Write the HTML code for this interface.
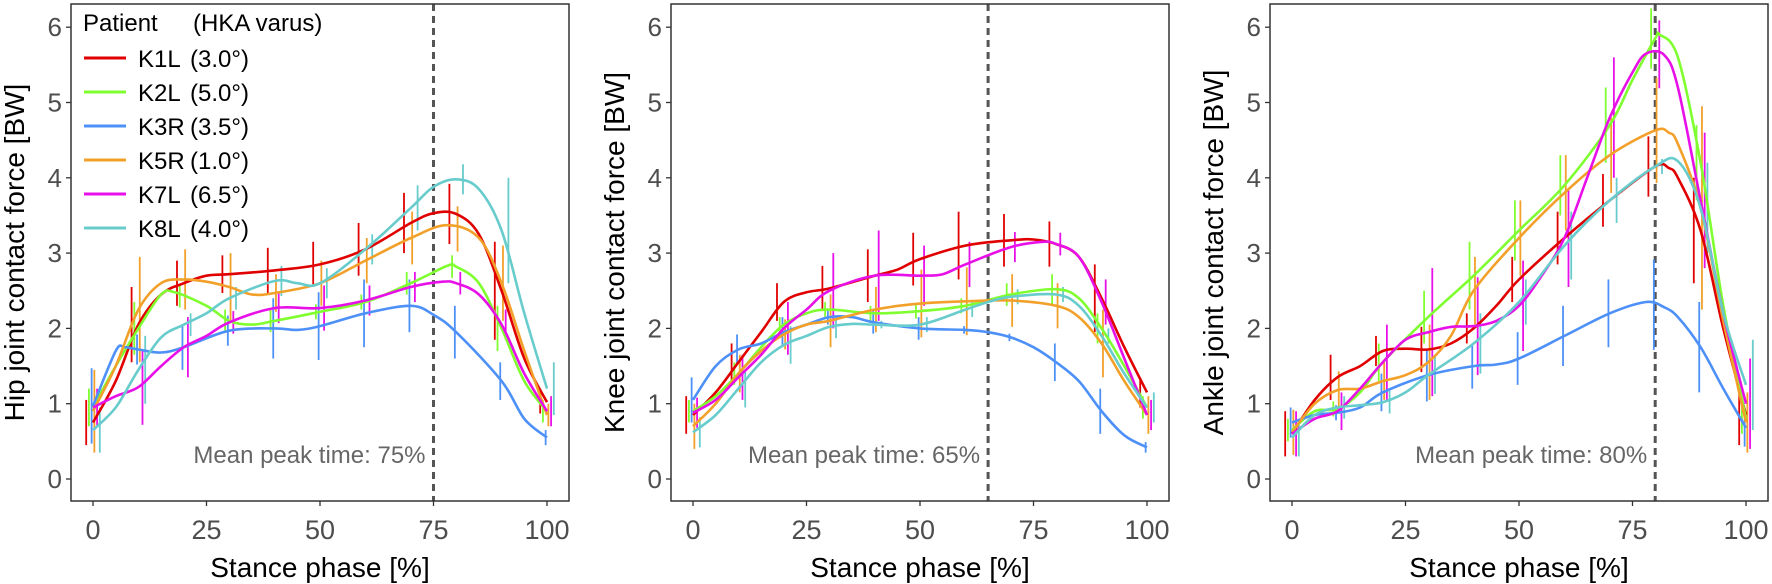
<!DOCTYPE html>
<html><head><meta charset="utf-8"><style>
html,body{margin:0;padding:0;background:#fff;}
svg{display:block;font-family:"Liberation Sans",Arial,sans-serif;}
</style></head><body>
<svg id="chart" width="1772" height="584" viewBox="0 0 1772 584"></svg>
<script>
const xTicks=[0,25,50,75,100];
const yTicks=[0,1,2,3,4,5,6];
const seriesNames=["K1L","K2L","K3R","K5R","K7L","K8L"];
const seriesVarus=["(3.0°)","(5.0°)","(3.5°)","(1.0°)","(6.5°)","(4.0°)"];
const seriesColors=["#e00000","#80ff30","#4d90f8","#f2a02a","#e810e8","#68cccc"];
const panelTitles=["Hip joint contact force [BW]","Knee joint contact force [BW]","Ankle joint contact force [BW]"];
const peakTimes=[75,65,80];
const barX=[0,10,20,30,40,50,60,70,80,90,100];
const hipK1L=[[0,0.75],[5,1.3],[10,2.05],[15,2.45],[20,2.6],[25,2.7],[30,2.72],[40,2.77],[50,2.85],[60,3.05],[70,3.4],[75,3.53],[80,3.52],[85,3.25],[90,2.5],[95,1.6],[100,1.02]];
const hipK2L=[[0,0.95],[5,1.5],[10,2.0],[15,2.45],[18,2.48],[25,2.3],[30,2.1],[35,2.05],[40,2.1],[50,2.22],[60,2.35],[70,2.6],[78,2.83],[80,2.82],[85,2.6],[90,2.0],[95,1.3],[100,0.9]];
const hipK3R=[[0,0.97],[5,1.7],[7,1.75],[10,1.72],[15,1.68],[20,1.75],[30,1.97],[40,2.0],[45,1.98],[50,2.03],[60,2.2],[70,2.3],[75,2.18],[80,1.95],[90,1.3],[95,0.8],[100,0.55]];
const hipK5R=[[0,0.9],[5,1.5],[10,2.25],[15,2.6],[20,2.65],[25,2.62],[30,2.55],[35,2.45],[40,2.47],[50,2.6],[60,2.9],[70,3.2],[78,3.37],[85,3.2],[90,2.6],[95,1.7],[100,0.85]];
const hipK7L=[[0,0.95],[5,1.1],[10,1.22],[15,1.5],[20,1.75],[25,1.9],[30,2.08],[40,2.27],[50,2.27],[60,2.37],[70,2.55],[77,2.62],[80,2.6],[85,2.45],[90,2.05],[95,1.4],[100,0.9]];
const hipK8L=[[0,0.65],[5,0.95],[10,1.45],[15,1.88],[20,2.05],[25,2.2],[30,2.4],[40,2.63],[45,2.6],[50,2.6],[60,3.05],[70,3.6],[75,3.88],[80,3.98],[85,3.85],[90,3.3],[95,2.2],[100,1.2]];
const kneeK1L=[[0,0.85],[5,1.15],[10,1.55],[15,1.95],[20,2.35],[25,2.48],[30,2.53],[40,2.7],[45,2.78],[50,2.92],[60,3.1],[70,3.17],[75,3.18],[80,3.12],[85,2.95],[90,2.4],[95,1.75],[100,1.15]];
const kneeK2L=[[0,0.9],[5,1.1],[10,1.4],[15,1.75],[20,2.05],[25,2.2],[30,2.25],[40,2.2],[50,2.23],[60,2.3],[70,2.45],[80,2.52],[85,2.4],[90,2.0],[95,1.5],[100,0.95]];
const kneeK3R=[[0,1.05],[5,1.5],[10,1.72],[15,1.8],[20,1.95],[25,2.05],[30,2.15],[35,2.15],[40,2.08],[50,2.0],[60,1.98],[65,1.95],[70,1.88],[75,1.75],[80,1.55],[85,1.3],[90,0.9],[95,0.58],[100,0.42]];
const kneeK5R=[[0,0.7],[5,1.0],[10,1.4],[15,1.7],[20,1.92],[25,2.05],[30,2.1],[40,2.25],[50,2.33],[60,2.36],[70,2.37],[80,2.3],[85,2.15],[90,1.8],[95,1.3],[100,0.85]];
const kneeK7L=[[0,0.88],[5,1.05],[10,1.35],[15,1.65],[20,2.0],[25,2.25],[30,2.5],[40,2.7],[50,2.7],[55,2.72],[60,2.85],[70,3.08],[77,3.15],[80,3.12],[85,2.95],[90,2.35],[95,1.6],[100,0.85]];
const kneeK8L=[[0,0.62],[5,0.85],[10,1.2],[15,1.55],[20,1.78],[25,1.9],[30,2.02],[35,2.06],[40,2.05],[50,2.05],[60,2.25],[65,2.35],[70,2.42],[80,2.45],[85,2.3],[90,1.9],[95,1.4],[100,0.95]];
const ankleK1L=[[0,0.6],[5,1.05],[10,1.35],[15,1.5],[20,1.7],[25,1.73],[30,1.72],[35,1.8],[40,2.0],[45,2.3],[50,2.65],[60,3.2],[70,3.7],[80,4.15],[83,4.13],[85,4.0],[90,3.3],[95,2.0],[100,0.85]];
const ankleK2L=[[0,0.65],[5,0.9],[10,0.93],[15,1.15],[20,1.55],[30,2.15],[40,2.7],[50,3.3],[60,3.9],[70,4.7],[75,5.3],[80,5.85],[81,5.9],[85,5.6],[90,4.2],[95,2.3],[100,0.8]];
const ankleK3R=[[0,0.75],[5,0.85],[10,0.88],[15,0.95],[20,1.15],[30,1.38],[40,1.5],[45,1.52],[50,1.6],[60,1.9],[70,2.2],[78,2.35],[82,2.28],[85,2.15],[90,1.75],[95,1.2],[100,0.68]];
const ankleK5R=[[0,0.62],[5,1.0],[10,1.18],[15,1.2],[20,1.3],[25,1.38],[30,1.55],[35,1.9],[40,2.5],[50,3.2],[60,3.8],[70,4.3],[80,4.63],[83,4.6],[85,4.45],[90,3.6],[95,2.1],[100,0.75]];
const ankleK7L=[[0,0.6],[5,0.8],[10,0.9],[15,1.2],[20,1.55],[25,1.85],[30,1.95],[35,2.02],[40,2.03],[45,2.1],[50,2.3],[55,2.7],[60,3.2],[65,4.0],[70,4.8],[75,5.4],[78,5.65],[82,5.63],[85,5.2],[90,3.7],[95,2.2],[100,1.0]];
const ankleK8L=[[0,0.55],[5,0.85],[10,0.95],[15,0.98],[20,1.02],[25,1.15],[30,1.38],[40,1.8],[50,2.35],[60,3.1],[70,3.7],[80,4.15],[85,4.22],[90,3.6],[95,2.2],[100,1.25]];
const hipSD=[[0.3,0.5,0.3,0.25,0.3,0.3,0.35,0.4,0.4,0.65,0.15],[0.25,0.35,0.15,0.15,0.15,0.1,0.1,0.15,0.15,0.3,0.15],[0.5,0.2,0.3,0.2,0.4,0.45,0.45,0.35,0.35,0.25,0.1],[0.55,0.7,0.4,0.45,0.25,0.3,0.3,0.35,0.3,0.5,0.15],[0.25,0.5,0.4,0.15,0.2,0.3,0.2,0.2,0.15,0.2,0.2],[0.3,0.45,0.15,0.15,0.2,0.2,0.2,0.3,0.2,0.7,0.35]];
const kneeSD=[[0.25,0.25,0.25,0.3,0.35,0.35,0.45,0.35,0.3,0.45,0.2],[0.15,0.15,0.1,0.1,0.1,0.1,0.1,0.15,0.2,0.2,0.15],[0.3,0.2,0.2,0.1,0.15,0.15,0.05,0.05,0.25,0.3,0.07],[0.3,0.25,0.2,0.35,0.3,0.45,0.45,0.35,0.3,0.45,0.25],[0.2,0.3,0.35,0.5,0.6,0.4,0.3,0.2,0.15,0.3,0.2],[0.2,0.25,0.25,0.15,0.05,0.1,0.1,0.1,0.1,0.1,0.2]];
const ankleSD=[[0.3,0.3,0.2,0.3,0.2,0.3,0.35,0.35,0.4,0.7,0.4],[0.15,0.1,0.25,0.35,0.45,0.4,0.4,0.5,0.4,0.5,0.2],[0.2,0.1,0.25,0.35,0.3,0.35,0.4,0.45,0.6,0.6,0.25],[0.3,0.25,0.25,0.5,0.45,0.5,0.5,0.5,0.7,1.35,0.4],[0.3,0.25,0.5,0.85,0.65,0.6,0.65,0.8,0.45,0.9,0.6],[0.25,0.15,0.15,0.25,0.4,0.3,0.45,0.3,0.1,0.6,0.6]];
const panelCurves=[[hipK1L,hipK2L,hipK3R,hipK5R,hipK7L,hipK8L],[kneeK1L,kneeK2L,kneeK3R,kneeK5R,kneeK7L,kneeK8L],[ankleK1L,ankleK2L,ankleK3R,ankleK5R,ankleK7L,ankleK8L]];
const panelSD=[hipSD,kneeSD,ankleSD];
const panelNames=["hip","knee","ankle"];

const NS="http://www.w3.org/2000/svg";
const svg=document.getElementById('chart');
function mk(tag,attrs,parent,text){const e=document.createElementNS(NS,tag);for(const k in attrs)e.setAttribute(k,attrs[k]);if(text!==undefined)e.textContent=text;(parent||svg).appendChild(e);return e;}
const boxLefts=[71,671,1270];
const boxW=498, boxTop=4, boxBot=501;
const dodge=[-1.5,-0.9,-0.3,0.3,0.9,1.5];
function interp(c,x){for(let i=0;i<c.length-1;i++){if(x>=c[i][0]&&x<=c[i+1][0]){const t=(x-c[i][0])/(c[i+1][0]-c[i][0]);return c[i][1]+t*(c[i+1][1]-c[i][1]);}}return c[c.length-1][1];}
function smoothPath(pts){let d="M"+pts[0][0].toFixed(1)+","+pts[0][1].toFixed(1);for(let i=0;i<pts.length-1;i++){const p0=pts[Math.max(0,i-1)],p1=pts[i],p2=pts[i+1],p3=pts[Math.min(pts.length-1,i+2)];const c1=[p1[0]+(p2[0]-p0[0])/6,p1[1]+(p2[1]-p0[1])/6];const c2=[p2[0]-(p3[0]-p1[0])/6,p2[1]-(p3[1]-p1[1])/6];d+="C"+c1[0].toFixed(1)+","+c1[1].toFixed(1)+" "+c2[0].toFixed(1)+","+c2[1].toFixed(1)+" "+p2[0].toFixed(1)+","+p2[1].toFixed(1);}return d;}

for(let p=0;p<3;p++){
  const L=boxLefts[p];
  const xs=v=>L+22+v*4.54;
  const ys=v=>479-v*75.3;
  const g=mk('g',{});
  
  
  yTicks.forEach(t=>{
    const tk=mk('line',{x1:L-5,x2:L,y1:ys(t),y2:ys(t),stroke:'#333','stroke-width':1.3},g);
    
    
    const tl=mk('text',{x:L-9,y:ys(t)+9,'text-anchor':'end','font-size':26,fill:'#4d4d4d'},g,String(t));
    
    
  });
  xTicks.forEach(t=>{
    const tk=mk('line',{x1:xs(t),x2:xs(t),y1:boxBot,y2:boxBot+5,stroke:'#333','stroke-width':1.3},g);
    
    
    const tl=mk('text',{x:xs(t),y:539,'text-anchor':'middle','font-size':27,fill:'#4d4d4d'},g,String(t));
    
    
  });
  const xt=mk('text',{x:xs(50),y:577,'text-anchor':'middle','font-size':28,fill:'#000'},g,'Stance phase [%]');
  
  
  const yt=mk('text',{x:0,y:0,'text-anchor':'middle','font-size':28,fill:'#000',transform:`translate(${L-47},${(boxTop+boxBot)/2}) rotate(-90)`},g,panelTitles[p]);
  
  
  const pl=mk('line',{x1:xs(peakTimes[p]),x2:xs(peakTimes[p]),y1:boxTop,y2:boxBot,stroke:'#555','stroke-width':3,'stroke-dasharray':'7,5'},g);
  
  
  const pt=mk('text',{x:xs(peakTimes[p])-8,y:463,'text-anchor':'end','font-size':24,fill:'#666'},g,'Mean peak time: '+peakTimes[p]+'%');
  
  
  for(let s=0;s<6;s++){
    const c=panelCurves[p][s], sd=panelSD[p][s];
    barX.forEach((bx,i)=>{
      const m=interp(c,bx);
      const b=mk('line',{x1:xs(bx+dodge[s]),x2:xs(bx+dodge[s]),y1:ys(m-sd[i]),y2:ys(m+sd[i]),stroke:seriesColors[s],'stroke-width':1.8},g);
      
      
    });
  }
  for(let s=0;s<6;s++){
    const c=panelCurves[p][s];
    const path=mk('path',{d:smoothPath(c.map(q=>[xs(q[0]),ys(q[1])])),fill:'none',stroke:seriesColors[s],'stroke-width':2.6,'stroke-linejoin':'round'},g);
    
    
  }
  const box=mk('rect',{x:L,y:boxTop,width:boxW,height:boxBot-boxTop,fill:'none',stroke:'#333','stroke-width':1.5},g);
  
  
}
const lg=mk('g',{});


const h1=mk('text',{x:83,y:31,'font-size':24,fill:'#000'},lg,'Patient');


const h2=mk('text',{x:193,y:31,'font-size':24,fill:'#000'},lg,'(HKA varus)');


for(let s=0;s<6;s++){
  const y=58+s*34;
  const e=mk('g',{},lg);
  
  
  mk('line',{x1:84,x2:126,y1:y,y2:y,stroke:seriesColors[s],'stroke-width':3},e);
  mk('text',{x:138,y:y+9,'font-size':24,fill:'#000'},e,seriesNames[s]);
  mk('text',{x:190,y:y+9,'font-size':24,fill:'#000'},e,seriesVarus[s]);
}
</script>
</body></html>
